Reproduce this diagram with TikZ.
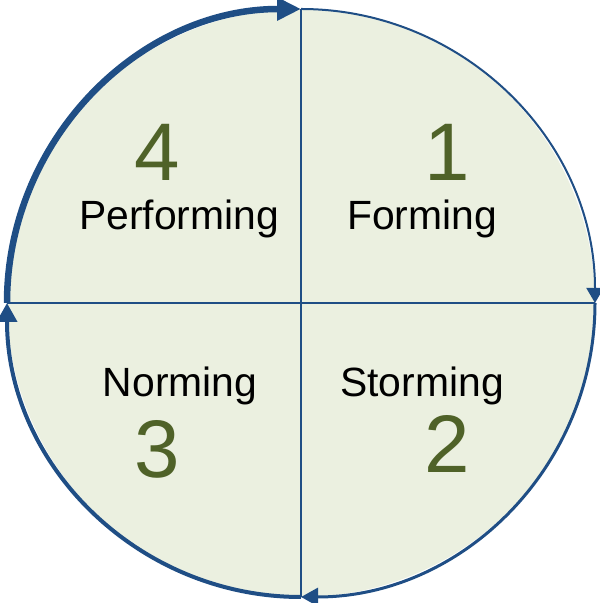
\documentclass[tikz,border=0pt]{standalone}
\usepackage{fontspec}
\setmainfont{Liberation Sans}
\usetikzlibrary{arrows.meta}
\definecolor{cycleblue}{HTML}{1F4E85}
\definecolor{cyclefill}{HTML}{EBF0E0}
\definecolor{stagegreen}{HTML}{4F6228}
\tikzset{
    stage/.style={font=\fontsize{41}{45}\selectfont, anchor=base},
    stagenum/.style={font=\fontsize{82}{86}\selectfont, text=stagegreen},
    quarter/.style={draw=cycleblue}
}

\begin{document}
\begin{tikzpicture}[x=1bp, y=1bp]
    \useasboundingbox (0,0) rectangle (600,603);

                \coordinate (C) at (301,300);
                \coordinate (N) at (301,594);
                \coordinate (E) at (595,300);
                \coordinate (S) at (301,6);
                \coordinate (W) at (7,300);

                \fill[cyclefill] (C) circle[radius=294];
                \draw[cycleblue, line width=2bp] (N) -- (S);
                \draw[cycleblue, line width=2bp] (W) -- (E);

                \draw[quarter, line width=2bp, -{Triangle[length=15bp, width=17bp]}] (N) arc[start angle=90, end angle=0, radius=294];
                \draw[quarter, line width=3bp, -{Triangle[length=17bp, width=18bp]}] (E) arc[start angle=0, end angle=-90, radius=294];
                \draw[quarter, line width=4bp, -{Triangle[length=19bp, width=20bp]}] (S) arc[start angle=-90, end angle=-180, radius=294];
                \draw[quarter, line width=6.5bp, -{Triangle[length=24bp, width=22bp]}] (W) arc[start angle=180, end angle=90, radius=294];

                \node[stagenum] (n1) at (447,451) {1};
                \node[stage] (s1) at (422,373) {Forming};
                \node[stage] (s2) at (422,206) {Storming};
                \node[stagenum] (n2) at (447,159) {2};
                \node[stage] (s3) at (180,206) {Norming};
                \node[stagenum] (n3) at (157,154) {3};
                \node[stagenum] (n4) at (157,451) {4};
                \node[stage] (s4) at (179,373) {Performing};

\end{tikzpicture}
\end{document}
